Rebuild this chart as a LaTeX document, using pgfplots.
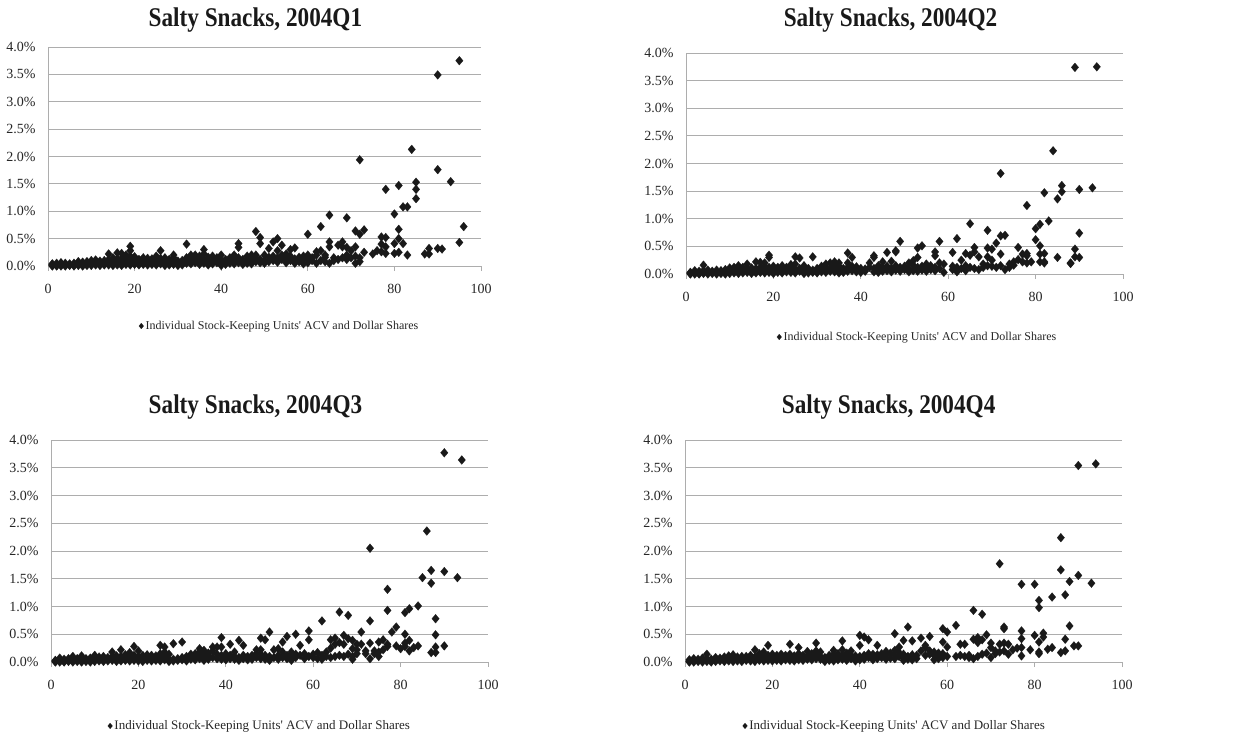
\documentclass[border=0pt]{standalone}
\usepackage{fontspec}
\setmainfont{Liberation Serif}
\usepackage{graphicx}
\usepackage{pgfplots}
\pgfplotsset{compat=1.18}
\definecolor{gridc}{gray}{0.68}
\definecolor{mk}{gray}{0.1}
\tikzset{ttl/.style={font=\fontsize{27bp}{30bp}\selectfont\bfseries, text=black!90, anchor=center}}
\pgfplotsset{
  snack/.style={
    scale only axis, clip=false,
    xmin=0, xmax=100, ymin=0, ymax=4,
    xtick={0,20,40,60,80,100},
    ytick={0,0.5,1,1.5,2,2.5,3,3.5,4},
    axis x line=bottom, axis y line=left,
    axis line style={-, draw=gridc, line width=0.9bp},
    ymajorgrids, grid style={draw=gridc, line width=0.9bp},
    tick align=outside,
    xtick style={draw=gridc, line width=0.9bp},
    major tick length=5bp,
    ytick style={draw=none},
    /pgf/number format/assume math mode=true,
    tick label style={font=\fontsize{14bp}{16bp}\selectfont, text=black!85},
    yticklabel={\pgfmathprintnumber[fixed,fixed zerofill,precision=1]{\tick}\%},
    yticklabel style={xshift=-4bp},
    xticklabel style={yshift=-10bp},
    legend style={draw=none, fill=none, anchor=center, inner sep=0pt,
      font=\fontsize{13bp}{15bp}\selectfont, text=black!85},
    legend image post style={mark size=2.8bp, xscale=1},
  },
  pts/.style={only marks, mark=diamond*, mark size=4.4bp, mark options={xscale=1.12, fill=mk, draw=mk, line width=0.2bp}},
}
\newcommand{\leg}{Individual Stock-Keeping Units\textquotesingle\ ACV and Dollar Shares}
\begin{document}
\begin{tikzpicture}
% ---------------- Q1
\begin{axis}[snack, at={(48bp,-47bp)}, anchor=north west, width=433bp, height=219bp,
  legend style={at={(0.535,-0.274)}, font=\fontsize{12bp}{14bp}\selectfont}]
\addplot[pts] coordinates {
(1,0)(1,0.01)(1,0.02)(1,0.03)(1,0.04)
(2,0)(2,0.01)(2,0.03)(2,0.05)
(3,0)(3,0.02)(3,0.04)(3,0.06)
(4,0)(4,0.01)(4,0.03)(4,0.05)
(5,0.01)(5,0.02)(5,0.04)
(6,0)(6,0.02)(6,0.03)(6,0.05)
(7,0.01)(7,0.03)(7,0.06)(7,0.08)
(8,0)(8,0.02)(8,0.05)(8,0.07)
(9,0.01)(9,0.03)(9,0.05)(9,0.08)
(10,0.01)(10,0.04)(10,0.06)(10,0.1)
(11,0.02)(11,0.04)(11,0.07)(11,0.11)
(12,0.01)(12,0.03)(12,0.06)(12,0.09)
(13,0.02)(13,0.05)(13,0.08)(13,0.1)
(14,0.02)(14,0.04)(14,0.07)(14,0.12)(14,0.22)
(15,0.01)(15,0.03)(15,0.06)(15,0.1)(15,0.15)
(16,0.02)(16,0.05)(16,0.08)(16,0.13)(16,0.24)
(17,0.01)(17,0.04)(17,0.09)(17,0.14)(17,0.23)
(18,0.03)(18,0.06)(18,0.1)(18,0.16)(18,0.2)
(19,0.02)(19,0.05)(19,0.1)(19,0.18)(19,0.28)(19,0.36)
(20,0.03)(20,0.07)(20,0.12)(20,0.17)
(21,0.02)(21,0.05)(21,0.08)(21,0.12)
(22,0.03)(22,0.06)(22,0.1)(22,0.15)
(23,0.02)(23,0.05)(23,0.09)(23,0.14)
(24,0.03)(24,0.06)(24,0.11)(24,0.13)
(25,0.02)(25,0.05)(25,0.1)(25,0.18)
(26,0.04)(26,0.08)(26,0.14)(26,0.28)
(27,0.01)(27,0.05)(27,0.09)(27,0.15)
(28,0.02)(28,0.06)(28,0.12)
(29,0.03)(29,0.08)(29,0.15)(29,0.2)
(30,0.01)(30,0.04)(30,0.09)
(31,0.02)(31,0.05)(31,0.1)
(32,0.05)(32,0.1)(32,0.15)(32,0.4)
(33,0.04)(33,0.12)(33,0.2)
(34,0.06)(34,0.13)(34,0.2)
(35,0.03)(35,0.1)(35,0.18)
(36,0.05)(36,0.12)(36,0.22)(36,0.3)
(37,0.02)(37,0.08)(37,0.16)
(38,0.04)(38,0.1)(38,0.18)
(39,0.06)(39,0.12)(39,0.15)
(40,0.01)(40,0.05)(40,0.1)(40,0.2)
(41,0.03)(41,0.08)(41,0.12)
(42,0.05)(42,0.09)(42,0.15)
(43,0.04)(43,0.1)(43,0.2)
(44,0.06)(44,0.15)(44,0.34)(44,0.41)
(45,0.03)(45,0.09)(45,0.12)
(46,0.05)(46,0.1)(46,0.18)
(47,0.04)(47,0.12)(47,0.2)
(48,0.08)(48,0.15)(48,0.2)(48,0.63)
(49,0.06)(49,0.12)(49,0.41)(49,0.52)
(50,0.05)(50,0.1)(50,0.2)
(51,0.08)(51,0.16)(51,0.32)
(52,0.1)(52,0.18)(52,0.44)
(53,0.07)(53,0.15)(53,0.28)(53,0.5)
(54,0.12)(54,0.2)(54,0.38)
(55,0.06)(55,0.14)(55,0.22)
(56,0.1)(56,0.18)(56,0.3)
(57,0.05)(57,0.13)(57,0.33)
(58,0.08)(58,0.16)
(59,0.04)(59,0.12)(59,0.18)
(60,0.06)(60,0.14)(60,0.2)(60,0.58)
(61,0.1)(61,0.15)
(62,0.05)(62,0.2)(62,0.26)
(63,0.1)(63,0.28)(63,0.72)
(64,0.08)(64,0.16)(64,0.2)
(65,0.05)(65,0.35)(65,0.44)(65,0.93)
(66,0.1)(66,0.15)
(67,0.12)(67,0.38)
(68,0.15)(68,0.35)(68,0.44)
(69,0.12)(69,0.2)(69,0.34)(69,0.88)
(70,0.15)(70,0.28)
(71,0.05)(71,0.18)(71,0.35)(71,0.64)
(72,0.08)(72,0.15)(72,0.58)(72,1.94)
(73,0.25)(73,0.66)
(75,0.22)(76,0.28)
(77,0.26)(77,0.4)(77,0.53)
(78,0.23)(78,0.35)(78,0.52)(78,1.4)
(80,0.23)(80,0.41)(80,0.95)
(81,0.25)(81,0.5)(81,0.67)(81,1.47)
(82,0.41)(82,1.08)
(83,0.2)(83,1.08)
(84,2.13)
(85,1.23)(85,1.4)(85,1.53)
(87,0.22)(88,0.22)(88,0.32)
(90,0.32)(90,1.76)(90,3.49)(91,0.31)(93,1.54)(95,0.43)(95,3.75)(96,0.72)
};
\addlegendentry{\leg}
\node[ttl] at (rel axis cs:0.479,1.123) {\scalebox{0.86}[1]{Salty Snacks, 2004Q1}};
\end{axis}
% ---------------- Q2
\begin{axis}[snack, at={(686bp,-53bp)}, anchor=north west, width=437bp, height=221bp,
  legend style={at={(0.53,-0.285)}, font=\fontsize{12bp}{14bp}\selectfont}]
\addplot[pts] coordinates {
(1,0)(1,0.01)(1,0.02)(1,0.03)
(2,0)(2,0.02)(2,0.04)(2,0.06)
(3,0)(3,0.01)(3,0.03)(3,0.05)
(4,0.01)(4,0.03)(4,0.06)(4,0.16)
(5,0)(5,0.02)(5,0.04)(5,0.07)
(6,0.01)(6,0.03)(6,0.05)
(7,0)(7,0.02)(7,0.04)(7,0.07)
(8,0.01)(8,0.03)(8,0.06)
(9,0)(9,0.02)(9,0.05)(9,0.08)
(10,0.01)(10,0.04)(10,0.07)(10,0.11)
(11,0.02)(11,0.05)(11,0.09)(11,0.12)
(12,0.01)(12,0.03)(12,0.07)(12,0.15)
(13,0.02)(13,0.05)(13,0.09)(13,0.12)
(14,0.03)(14,0.06)(14,0.1)(14,0.18)
(15,0.01)(15,0.04)(15,0.08)(15,0.11)
(16,0.02)(16,0.06)(16,0.1)(16,0.22)
(17,0.03)(17,0.07)(17,0.12)(17,0.21)
(18,0.02)(18,0.05)(18,0.09)(18,0.14)(18,0.2)
(19,0.03)(19,0.06)(19,0.12)(19,0.3)(19,0.34)
(20,0.01)(20,0.05)(20,0.09)(20,0.14)
(21,0.03)(21,0.07)(21,0.12)
(22,0.02)(22,0.06)(22,0.1)(22,0.15)
(23,0.04)(23,0.08)(23,0.12)
(24,0.03)(24,0.07)(24,0.13)(24,0.17)
(25,0.02)(25,0.08)(25,0.18)(25,0.31)
(26,0.05)(26,0.1)(26,0.29)
(27,0.01)(27,0.04)(27,0.09)(27,0.15)
(28,0.02)(28,0.06)(28,0.1)
(29,0.03)(29,0.07)(29,0.31)
(30,0.02)(30,0.05)(30,0.1)
(31,0.04)(31,0.08)(31,0.14)
(32,0.03)(32,0.07)(32,0.12)(32,0.18)
(33,0.05)(33,0.1)(33,0.2)
(34,0.04)(34,0.09)(34,0.15)(34,0.22)
(35,0.02)(35,0.08)(35,0.14)(35,0.2)
(36,0.03)(36,0.1)
(37,0.05)(37,0.12)(37,0.2)(37,0.38)
(38,0.06)(38,0.14)(38,0.3)
(39,0.04)(39,0.1)(39,0.13)
(40,0.03)(40,0.07)(40,0.1)
(41,0.05)(41,0.09)
(42,0.12)(42,0.2)
(43,0.04)(43,0.1)(43,0.3)(43,0.33)
(44,0.03)(44,0.08)(44,0.15)
(45,0.05)(45,0.12)(45,0.22)
(46,0.06)(46,0.14)(46,0.39)
(47,0.04)(47,0.1)(47,0.23)
(48,0.07)(48,0.15)(48,0.4)(48,0.42)
(49,0.05)(49,0.12)(49,0.59)
(50,0.08)(50,0.14)
(51,0.04)(51,0.1)(51,0.2)
(52,0.06)(52,0.16)(52,0.24)
(53,0.05)(53,0.12)(53,0.3)(53,0.47)
(54,0.07)(54,0.14)(54,0.51)
(55,0.05)(55,0.1)(55,0.18)
(56,0.08)(56,0.15)
(57,0.06)(57,0.12)(57,0.33)(57,0.4)
(58,0.1)(58,0.2)(58,0.59)
(59,0.03)(59,0.18)
(61,0.08)(61,0.14)(61,0.39)
(62,0.04)(62,0.12)(62,0.64)
(63,0.1)(63,0.25)
(64,0.06)(64,0.15)(64,0.37)
(65,0.12)(65,0.34)(65,0.91)
(66,0.1)(66,0.4)(66,0.48)
(67,0.08)(67,0.31)
(68,0.12)(68,0.18)
(69,0.15)(69,0.31)(69,0.47)(69,0.79)
(70,0.14)(70,0.25)(70,0.45)
(71,0.12)(71,0.56)
(72,0.15)(72,0.36)(72,0.69)(72,1.82)
(73,0.08)(73,0.7)
(74,0.12)(74,0.18)
(75,0.16)(75,0.22)
(76,0.26)(76,0.48)
(77,0.22)(77,0.36)
(78,0.2)(78,0.33)(78,0.37)(78,1.24)
(79,0.22)
(80,0.62)(80,0.82)
(81,0.22)(81,0.36)(81,0.51)(81,0.9)
(82,0.2)(82,0.22)(82,0.37)(82,1.47)
(83,0.96)(84,2.23)
(85,0.3)(85,1.36)
(86,1.49)(86,1.6)
(88,0.19)(88,0.2)
(89,0.31)(89,0.45)(89,3.74)
(90,0.3)(90,0.74)(90,1.53)
(93,1.56)(94,3.75)
};
\addlegendentry{\leg}
\node[ttl] at (rel axis cs:0.468,1.149) {\scalebox{0.86}[1]{Salty Snacks, 2004Q2}};
\end{axis}
% ---------------- Q3
\begin{axis}[snack, at={(51bp,-440bp)}, anchor=north west, width=437bp, height=222bp,
  legend style={at={(0.478,-0.288)}}]
\addplot[pts] coordinates {
(1,0)(1,0.01)(1,0.02)(1,0.03)
(2,0)(2,0.02)(2,0.04)(2,0.07)
(3,0)(3,0.01)(3,0.03)(3,0.05)
(4,0.01)(4,0.03)(4,0.06)
(5,0)(5,0.02)(5,0.05)(5,0.1)
(6,0.01)(6,0.03)(6,0.06)
(7,0)(7,0.02)(7,0.05)(7,0.11)
(8,0.01)(8,0.03)(8,0.06)
(9,0)(9,0.02)(9,0.04)(9,0.07)
(10,0.01)(10,0.04)(10,0.07)(10,0.12)
(11,0.02)(11,0.05)(11,0.09)
(12,0.01)(12,0.03)(12,0.06)(12,0.1)
(13,0.02)(13,0.05)(13,0.08)
(14,0.03)(14,0.06)(14,0.1)(14,0.18)
(15,0.01)(15,0.04)(15,0.07)(15,0.11)
(16,0.02)(16,0.05)(16,0.1)(16,0.22)
(17,0.03)(17,0.06)(17,0.09)(17,0.13)
(18,0.02)(18,0.05)(18,0.1)(18,0.17)
(19,0.03)(19,0.07)(19,0.12)(19,0.28)
(20,0.02)(20,0.06)(20,0.1)(20,0.2)
(21,0.01)(21,0.05)(21,0.09)(21,0.12)
(22,0.03)(22,0.07)(22,0.13)
(23,0.02)(23,0.05)(23,0.09)(23,0.12)
(24,0.03)(24,0.07)(24,0.11)
(25,0.02)(25,0.08)(25,0.15)(25,0.3)
(26,0.04)(26,0.1)(26,0.18)(26,0.27)
(27,0.01)(27,0.06)(27,0.14)
(28,0.02)(28,0.05)(28,0.33)
(29,0.03)(29,0.06)
(30,0.04)(30,0.08)(30,0.36)
(31,0.02)(31,0.06)(31,0.1)
(32,0.05)(32,0.1)(32,0.14)
(33,0.04)(33,0.09)(33,0.15)
(34,0.06)(34,0.12)(34,0.18)(34,0.24)
(35,0.03)(35,0.1)(35,0.15)(35,0.21)
(36,0.05)(36,0.12)(36,0.16)
(37,0.08)(37,0.2)(37,0.27)
(38,0.06)(38,0.14)(38,0.27)
(39,0.05)(39,0.12)(39,0.27)(39,0.44)
(40,0.04)(40,0.1)(40,0.15)
(41,0.06)(41,0.12)(41,0.32)
(42,0.05)(42,0.1)(42,0.18)
(43,0.03)(43,0.08)(43,0.39)
(44,0.06)(44,0.12)(44,0.3)
(45,0.04)(45,0.1)
(46,0.05)(46,0.12)
(47,0.08)(47,0.15)(47,0.22)
(48,0.06)(48,0.14)(48,0.22)(48,0.43)
(49,0.05)(49,0.12)(49,0.4)
(50,0.03)(50,0.1)(50,0.54)
(51,0.08)(51,0.22)
(52,0.05)(52,0.12)(52,0.24)
(53,0.08)(53,0.18)(53,0.36)
(54,0.06)(54,0.12)(54,0.46)
(55,0.03)(55,0.1)(55,0.18)
(56,0.08)(56,0.14)(56,0.5)
(57,0.12)(57,0.3)
(58,0.06)(58,0.15)
(59,0.1)(59,0.4)(59,0.56)
(60,0.08)(60,0.14)
(61,0.06)(61,0.17)
(62,0.05)(62,0.12)(62,0.74)
(63,0.1)(63,0.18)
(64,0.08)(64,0.25)(64,0.4)
(65,0.1)(65,0.32)(65,0.43)
(66,0.12)(66,0.35)(66,0.9)
(67,0.1)(67,0.32)(67,0.48)
(68,0.14)(68,0.42)(68,0.84)
(69,0.05)(69,0.1)(69,0.24)(69,0.39)
(70,0.15)(70,0.22)(70,0.32)
(71,0.32)(71,0.54)
(72,0.15)(72,0.2)
(73,0.06)(73,0.34)(73,0.74)(73,2.05)
(74,0.15)(74,0.2)
(75,0.1)(75,0.18)(75,0.36)
(76,0.22)(76,0.4)
(77,0.28)(77,0.32)(77,0.93)(77,1.31)
(78,0.54)
(79,0.29)(79,0.63)
(80,0.24)
(81,0.28)(81,0.34)(81,0.5)(81,0.89)
(82,0.2)(82,0.39)(82,0.96)
(83,0.26)
(84,0.29)(84,1.01)
(85,1.52)
(86,2.36)
(87,0.17)(87,1.42)(87,1.65)
(88,0.17)(88,0.27)(88,0.49)(88,0.78)
(90,0.29)(90,1.63)(90,3.77)
(93,1.52)(94,3.64)
};
\addlegendentry{\leg}
\node[ttl] at (rel axis cs:0.468,1.15) {\scalebox{0.86}[1]{Salty Snacks, 2004Q3}};
\end{axis}
% ---------------- Q4
\begin{axis}[snack, at={(685bp,-440bp)}, anchor=north west, width=437bp, height=222bp,
  legend style={at={(0.48,-0.288)}}]
\addplot[pts] coordinates {
(1,0)(1,0.01)(1,0.02)(1,0.04)
(2,0)(2,0.02)(2,0.03)(2,0.06)
(3,0.01)(3,0.03)(3,0.05)
(4,0)(4,0.02)(4,0.04)(4,0.07)
(5,0.01)(5,0.03)(5,0.06)(5,0.14)
(6,0)(6,0.02)(6,0.05)
(7,0.01)(7,0.03)(7,0.06)(7,0.08)
(8,0.02)(8,0.04)(8,0.07)
(9,0.01)(9,0.03)(9,0.06)(9,0.09)
(10,0.02)(10,0.05)(10,0.08)(10,0.11)
(11,0.01)(11,0.04)(11,0.08)(11,0.13)
(12,0.02)(12,0.05)(12,0.09)
(13,0.01)(13,0.04)(13,0.07)(13,0.1)
(14,0.03)(14,0.06)(14,0.1)
(15,0.02)(15,0.05)(15,0.08)(15,0.12)
(16,0.01)(16,0.04)(16,0.09)(16,0.22)
(17,0.03)(17,0.07)(17,0.12)(17,0.15)
(18,0.02)(18,0.06)(18,0.1)(18,0.18)
(19,0.03)(19,0.07)(19,0.12)(19,0.3)
(20,0.02)(20,0.05)(20,0.1)(20,0.14)
(21,0.03)(21,0.07)(21,0.12)
(22,0.02)(22,0.06)(22,0.1)(22,0.14)
(23,0.04)(23,0.08)(23,0.12)
(24,0.03)(24,0.07)(24,0.14)(24,0.32)
(25,0.02)(25,0.06)(25,0.11)
(26,0.04)(26,0.09)(26,0.15)(26,0.26)
(27,0.03)(27,0.07)(27,0.12)
(28,0.05)(28,0.1)(28,0.19)
(29,0.04)(29,0.09)(29,0.15)
(30,0.06)(30,0.12)(30,0.2)(30,0.34)
(31,0.05)(31,0.1)(31,0.18)
(32,0.01)(32,0.04)(32,0.08)
(33,0.03)(33,0.07)(33,0.12)
(34,0.02)(34,0.06)(34,0.14)(34,0.21)
(35,0.04)(35,0.1)(35,0.15)
(36,0.05)(36,0.12)(36,0.22)(36,0.38)
(37,0.03)(37,0.09)(37,0.16)
(38,0.06)(38,0.12)(38,0.2)
(39,0.02)(39,0.07)(39,0.11)
(40,0.04)(40,0.1)(40,0.3)(40,0.48)
(41,0.05)(41,0.12)(41,0.45)
(42,0.08)(42,0.15)(42,0.4)
(43,0.04)(43,0.1)(43,0.14)
(44,0.06)(44,0.13)(44,0.3)
(45,0.08)(45,0.15)
(46,0.05)(46,0.12)(46,0.19)
(47,0.07)(47,0.16)
(48,0.06)(48,0.12)(48,0.21)(48,0.51)
(49,0.1)(49,0.17)(49,0.27)
(50,0.03)(50,0.08)(50,0.14)(50,0.39)
(51,0.05)(51,0.1)(51,0.63)
(52,0.04)(52,0.09)(52,0.13)(52,0.38)
(53,0.06)(53,0.12)
(54,0.2)(54,0.43)
(55,0.12)(55,0.26)(55,0.3)
(56,0.14)(56,0.2)(56,0.46)
(57,0.04)(57,0.12)(57,0.18)
(58,0.06)(58,0.1)(58,0.16)
(59,0.08)(59,0.15)(59,0.36)(59,0.6)
(60,0.1)(60,0.27)(60,0.54)
(62,0.1)(62,0.66)
(63,0.12)(63,0.32)
(64,0.1)(64,0.32)
(65,0.08)(65,0.12)
(66,0.06)(66,0.41)(66,0.93)
(67,0.1)(67,0.35)(67,0.44)
(68,0.14)(68,0.4)(68,0.86)
(69,0.16)(69,0.49)
(70,0.08)(70,0.26)(70,0.34)
(71,0.15)(71,0.2)
(72,0.18)(72,0.32)(72,1.77)
(73,0.2)(73,0.34)(73,0.6)(73,0.63)
(74,0.14)(74,0.32)
(75,0.22)
(76,0.25)
(77,0.11)(77,0.26)(77,0.42)(77,0.56)(77,1.4)
(79,0.22)
(80,0.48)(80,1.4)
(81,0.15)(81,0.18)(81,0.36)(81,0.98)(81,1.11)
(82,0.45)(82,0.52)
(83,0.23)(84,0.26)(84,1.17)
(86,0.17)(86,1.66)(86,2.24)
(87,0.2)(87,0.41)(87,1.21)
(88,0.65)(88,1.45)
(89,0.29)(90,0.29)(90,1.56)(90,3.54)
(93,1.42)(94,3.57)
};
\addlegendentry{\leg}
\node[ttl] at (rel axis cs:0.466,1.15) {\scalebox{0.86}[1]{Salty Snacks, 2004Q4}};
\end{axis}
\pgfresetboundingbox
\useasboundingbox (0,0) rectangle (1234bp,-734bp);
\end{tikzpicture}
\end{document}
